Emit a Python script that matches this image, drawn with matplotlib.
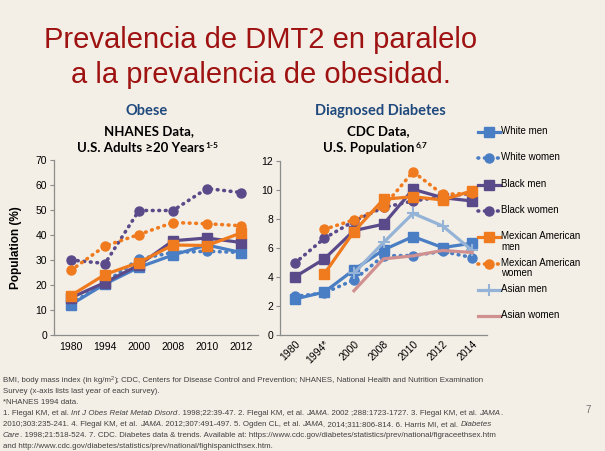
import numpy as np
import matplotlib
matplotlib.use("Agg")
import matplotlib.pyplot as plt
from matplotlib.lines import Line2D

plt.rcParams['font.family'] = ['Liberation Sans', 'DejaVu Sans']

# Obesity data (NHANES), %
obese_years = ['1980', '1994', '2000', '2008', '2010', '2012']
obese_white_men = [12.2, 20.4, 27.1, 32.0, 36.0, 33.0]
obese_white_women = [12.5, 21.0, 30.4, 33.0, 33.5, 33.0]
obese_black_men = [14.9, 21.0, 28.0, 37.7, 38.8, 37.0]
obese_black_women = [30.0, 28.6, 49.8, 49.8, 58.6, 57.0]
obese_mex_men = [15.8, 24.2, 29.0, 36.0, 35.8, 40.8]
obese_mex_women = [25.9, 35.6, 40.2, 45.0, 44.5, 43.7]

# Diagnosed diabetes data (CDC), %
diab_years = ['1980', '1994*', '2000', '2008', '2010', '2012', '2014']
nan = np.nan
diab_white_men = [2.48, 2.96, 4.5, 5.87, 6.79, 6.03, 6.33]
diab_white_women = [2.66, 2.9, 3.8, 5.46, 5.48, 5.76, 5.34]
diab_black_men = [4.0, 5.25, 7.2, 7.64, 10.05, 9.47, 9.24]
diab_black_women = [4.95, 6.67, 7.85, 8.8, 9.24, 9.54, 9.77]
diab_mex_men = [nan, 4.22, 7.13, 9.36, 9.54, 9.31, 9.95]
diab_mex_women = [nan, 7.29, 7.94, 8.85, 11.26, 9.7, 9.77]
diab_asian_men = [nan, nan, 4.27, 6.38, 8.39, 7.52, 5.83]
diab_asian_women = [nan, nan, 3.05, 5.25, 5.46, 5.83, 5.69]

BLUE = '#4A7EC4'
PURPLE = '#5A4A8A'
ORANGE = '#F07A1E'
LBLUE = '#95B3D7'
PINK = '#D0908F'
GRAY = '#8C8C8C'

W, H = 605, 451
fig = plt.figure(figsize=(6.05, 4.51), dpi=100)
fig.patch.set_facecolor('#F4EFE6')
renderer = fig.canvas.get_renderer()


def fx(px):
    return px / W


def fy(py):
    return 1 - py / H


solid = dict(lw=2.3, marker='s', ms=6.5)
dotted = dict(lw=2.6, ls=(0, (0.2, 1.6)), dash_capstyle='round', marker='o', ms=6.5)

styles = [
    ('White men', BLUE, solid),
    ('White women', BLUE, dotted),
    ('Black men', PURPLE, solid),
    ('Black women', PURPLE, dotted),
    ('Mexican American\nmen', ORANGE, solid),
    ('Mexican American\nwomen', ORANGE, dotted),
    ('Asian men', LBLUE, dict(lw=2.3, marker='+', ms=8, mew=1.5)),
    ('Asian women', PINK, dict(lw=2.3)),
]


def style_axes(ax):
    ax.set_facecolor('none')
    for s in ['top', 'right']:
        ax.spines[s].set_visible(False)
    for s in ['left', 'bottom']:
        ax.spines[s].set_color(GRAY)
        ax.spines[s].set_linewidth(0.9)
    ax.tick_params(axis='y', length=3, color=GRAY, labelsize=7.5, pad=2)
    ax.tick_params(axis='x', length=0, labelsize=7.5, pad=5)


# Left chart: obesity
ax1 = fig.add_axes([fx(54), fy(335), fx(204), fy(160) - fy(335)])
style_axes(ax1)
xo = np.arange(len(obese_years))
obese_series = [obese_white_women, obese_white_men, obese_black_women, obese_black_men,
                obese_mex_women, obese_mex_men]
obese_idx = [1, 0, 3, 2, 5, 4]
for data, i in zip(obese_series, obese_idx):
    name, c, st = styles[i]
    ax1.plot(xo, data, color=c, **st)
ax1.set_xlim(-0.5, len(obese_years) - 0.5)
ax1.set_ylim(0, 70)
ax1.set_yticks(range(0, 71, 10))
ax1.set_xticks(xo)
ax1.set_xticklabels(obese_years)
ax1.set_ylabel('Population (%)', fontsize=8.5, fontweight='bold', labelpad=10)

# Right chart: diabetes
ax2 = fig.add_axes([fx(280), fy(335), fx(207), fy(161) - fy(335)])
style_axes(ax2)
xd = np.arange(len(diab_years))
diab_series = [diab_white_women, diab_white_men, diab_black_women, diab_black_men,
               diab_mex_women, diab_mex_men, diab_asian_men, diab_asian_women]
diab_idx = [1, 0, 3, 2, 5, 4, 6, 7]
for data, i in zip(diab_series, diab_idx):
    name, c, st = styles[i]
    ax2.plot(xd, data, color=c, **st)
ax2.set_xlim(-0.5, len(diab_years) - 0.5)
ax2.set_ylim(0, 12)
ax2.set_yticks(range(0, 13, 2))
ax2.set_xticks(xd)
ax2.set_xticklabels(diab_years, rotation=45, ha='right', rotation_mode='anchor')
ax2.tick_params(axis='x', pad=3)

# Legend (manual, PowerPoint style)
for i, (name, c, st) in enumerate(styles):
    y = 132 + 26.3 * i
    fig.add_artist(Line2D([fx(478), fx(489), fx(500)], [fy(y)] * 3, color=c,
                          transform=fig.transFigure, markevery=[1], **st))
    fig.text(fx(501), fy(y - 6), name, fontsize=7, va='top', ha='left', linespacing=1.05)


def title_with_sup(xc, y, main, sup, size=9.3):
    t = fig.text(fx(xc), fy(y), main, ha='center', va='center', fontsize=size,
                 fontweight='bold', family=tfont)
    bb = t.get_window_extent(renderer)
    s = fig.text(0, fy(y - 3), sup, ha='left', va='center', fontsize=6,
                 fontweight='bold', family=tfont)
    sw = s.get_window_extent(renderer).width
    # shift both so the whole group is centered
    t.set_x(fx(xc - sw / 2))
    s.set_x(fx(xc - sw / 2 + bb.width / 2 + 1))


# Chart titles
tfont = ['Lato', 'DejaVu Sans']
fig.text(fx(147), fy(111), 'Obese', ha='center', va='center', fontsize=10.5,
         fontweight='bold', color='#1F497D', family=tfont)
fig.text(fx(149), fy(131), 'NHANES Data,', ha='center', va='center', fontsize=9.5,
         fontweight='bold', family=tfont)
title_with_sup(147, 148, 'U.S. Adults \u226520 Years', '1-5', size=9.5)

fig.text(fx(380), fy(111), 'Diagnosed Diabetes', ha='center', va='center', fontsize=10.5,
         fontweight='bold', color='#1F497D', family=tfont)
fig.text(fx(378), fy(131), 'CDC Data,', ha='center', va='center', fontsize=9.5,
         fontweight='bold', family=tfont)
title_with_sup(375, 148, 'U.S. Population', '6,7', size=9.5)

# Main title
fig.text(fx(261), fy(40), 'Prevalencia de DMT2 en paralelo', ha='center', va='center',
         fontsize=21, color='#9E1212')
fig.text(fx(261), fy(75), 'a la prevalencia de obesidad.', ha='center', va='center',
         fontsize=21, color='#9E1212')

# Footnotes with mixed italics
notes = [
    [('BMI, body mass index (in kg/m', 'normal'), ('2', 'sup'),
     ('); CDC, Centers for Disease Control and Prevention; NHANES, National Health and Nutrition Examination', 'normal')],
    [('Survey (x-axis lists last year of each survey).', 'normal')],
    [('*NHANES 1994 data.', 'normal')],
    [('1. Flegal KM, et al. ', 'normal'), ('Int J Obes Relat Metab Disord', 'italic'),
     ('. 1998;22:39-47. 2. Flegal KM, et al. ', 'normal'), ('JAMA', 'italic'),
     ('. 2002 ;288:1723-1727. 3. Flegal KM, et al. ', 'normal'), ('JAMA', 'italic'), ('.', 'normal')],
    [('2010;303:235-241. 4. Flegal KM, et al. ', 'normal'), ('JAMA', 'italic'),
     ('. 2012;307:491-497. 5. Ogden CL, et al. ', 'normal'), ('JAMA', 'italic'),
     ('. 2014;311:806-814. 6. Harris MI, et al. ', 'normal'), ('Diabetes', 'italic')],
    [('Care', 'italic'), ('. 1998;21:518-524. 7. CDC. Diabetes data & trends. Available at: '
                         'https://www.cdc.gov/diabetes/statistics/prev/national/figraceethsex.htm', 'normal')],
    [('and http://www.cdc.gov/diabetes/statistics/prev/national/fighispanicthsex.htm.', 'normal')],
]
for j, line in enumerate(notes):
    x = 3
    y = 381 + 10.9 * j
    for txt, kind in line:
        if kind == 'sup':
            tt = fig.text(fx(x), fy(y - 2), txt, fontsize=4, va='center', ha='left', color='#404040')
        else:
            tt = fig.text(fx(x), fy(y), txt, fontsize=5.7, va='center', ha='left',
                          style='italic' if kind == 'italic' else 'normal', color='#404040')
        x += tt.get_window_extent(renderer).width
fig.text(fx(588), fy(410), '7', fontsize=7, color='#707070', ha='center', va='center')

fig.savefig('out.png', dpi=100, facecolor=fig.get_facecolor())
